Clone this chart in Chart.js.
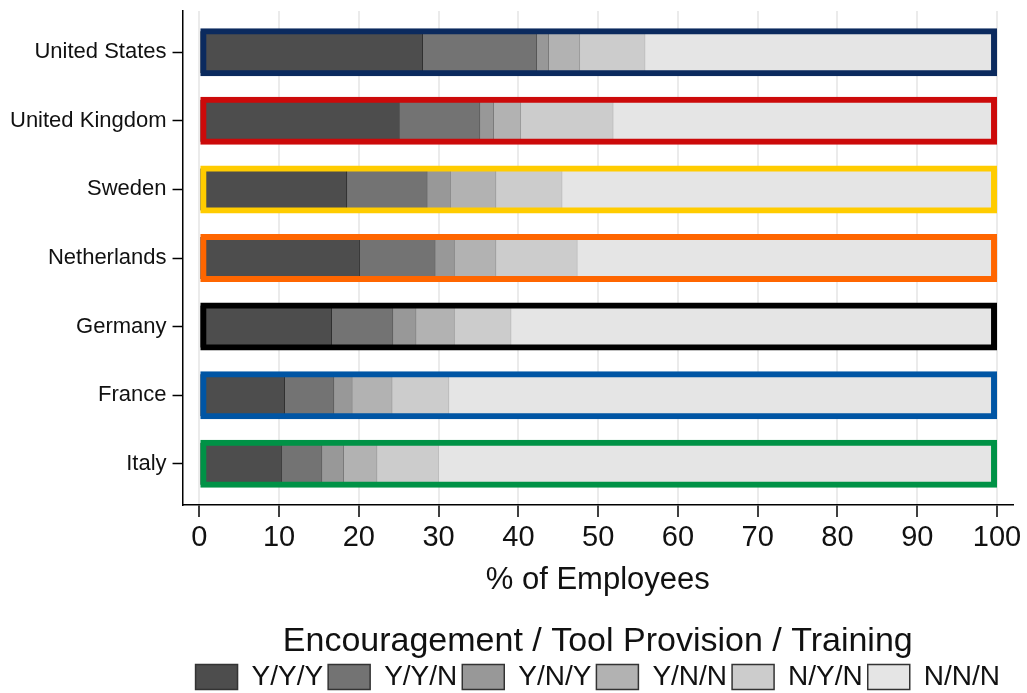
<!DOCTYPE html>
<html>
<head>
  <title>Encouragement / Tool Provision / Training</title>
  <script src="https://cdn.jsdelivr.net/npm/chart.js"></script>
  <style>
    body {
      margin: 0;
      background: #ffffff;
    }
    #wrap {
      width: 1027px;
      height: 693px;
    }
  </style>
</head>
<body>

  <div id="wrap"><canvas id="chart"></canvas></div>

  <script>
    const countries = ['United States', 'United Kingdom', 'Sweden', 'Netherlands', 'Germany', 'France', 'Italy'];
    const outlineColors = ['#0b2a5e', '#cc0a0a', '#ffcc00', '#ff6600', '#000000', '#0055a4', '#009246'];

    const seriesNames = ['Y/Y/Y', 'Y/Y/N', 'Y/N/Y', 'Y/N/N', 'N/Y/N', 'N/N/N'];
    const seriesColors = ['#4d4d4d', '#737373', '#989898', '#b2b2b2', '#cccccc', '#e5e5e5'];
    const seriesBorders = ['#2e2e2e', '#555555', '#7a7a7a', '#999999', '#b8b8b8', '#d0d0d0'];

    const yyy = [28.0, 25.1, 18.5, 20.1, 16.6, 10.7, 10.4];
    const yyn = [14.3, 10.1, 10.1, 9.5, 7.7, 6.2, 5.0];
    const yny = [1.5, 1.7, 2.9, 2.4, 2.9, 2.3, 2.7];
    const ynn = [3.9, 3.4, 5.7, 5.2, 4.8, 5.0, 4.2];
    const nyn = [8.2, 11.6, 8.3, 10.2, 7.1, 7.1, 7.7];
    const nnn = [44.1, 48.1, 54.5, 52.6, 60.9, 68.7, 70.0];
    const totals = [100, 100, 100, 100, 100, 100, 100];

    const xTicks = [0, 10, 20, 30, 40, 50, 60, 70, 80, 90, 100];

    const seriesValues = [yyy, yyn, yny, ynn, nyn, nnn];

    function points(vals) {
      return vals.map((v, i) => ({ x: v, y: i }));
    }

    // outline box goes first so it is drawn on top
    const datasets = [{
      label: 'outline',
      data: points(totals),
      backgroundColor: 'rgba(0,0,0,0)',
      borderColor: outlineColors,
      borderWidth: 6,
      borderSkipped: false,
      grouped: false,
      stack: 'outline',
      categoryPercentage: 1,
      barPercentage: 0.8,
      maxBarThickness: 48
    }];

    seriesValues.forEach((vals, k) => {
      datasets.push({
        label: seriesNames[k],
        data: points(vals),
        backgroundColor: seriesColors[k],
        borderColor: seriesBorders[k],
        borderWidth: { top: 0, bottom: 0, left: 0, right: 1 },
        borderSkipped: false,
        stack: 'main',
        barThickness: 42
      });
    });

    Chart.defaults.font.family = "'Liberation Sans', Arial, sans-serif";
    Chart.defaults.color = '#1a1a1a';

    new Chart(document.getElementById('chart'), {
      type: 'bar',
      data: { datasets: datasets },
      options: {
        indexAxis: 'y',
        responsive: true,
        maintainAspectRatio: false,
        animation: false,
        layout: {
          padding: { left: 4, right: 14, top: 11, bottom: -8 }
        },
        scales: {
          x: {
            type: 'linear',
            stacked: true,
            min: -2.1,
            max: 102,
            afterBuildTicks: axis => {
              axis.ticks = xTicks.map(v => ({ value: v }));
            },
            grid: {
              color: '#ebebeb',
              lineWidth: 2,
              tickColor: '#000000',
              tickWidth: 1.5,
              tickLength: 12
            },
            border: { color: '#000000', width: 1.5 },
            ticks: {
              font: { size: 29 },
              color: '#111111',
              padding: 4,
              maxRotation: 0
            },
            title: {
              display: true,
              text: '% of Employees',
              font: { size: 31 },
              color: '#111111',
              padding: { top: 2, bottom: 22 }
            }
          },
          y: {
            type: 'linear',
            stacked: true,
            reverse: true,
            offset: false,
            min: -0.6,
            max: 6.6,
            afterBuildTicks: axis => {
              axis.ticks = countries.map((c, i) => ({ value: i }));
            },
            grid: {
              offset: false,
              drawOnChartArea: false,
              tickColor: '#000000',
              tickWidth: 1.5,
              tickLength: 10
            },
            border: { color: '#000000', width: 1.5 },
            ticks: {
              font: { size: 22, lineHeight: 0.3 },
              color: '#111111',
              padding: 6,
              callback: v => countries[v]
            }
          }
        },
        plugins: {
          tooltip: { enabled: false },
          legend: {
            position: 'bottom',
            fullSize: false,
            title: {
              display: true,
              text: 'Encouragement / Tool Provision / Training',
              font: { size: 34, lineHeight: 1.0 },
              color: '#111111',
              padding: { top: 4, bottom: -1 }
            },
            labels: {
              boxWidth: 42,
              boxHeight: 25,
              padding: 5,
              font: { size: 28 },
              color: '#111111',
              generateLabels: chart => {
                return seriesNames.map((name, k) => ({
                  text: name,
                  fillStyle: seriesColors[k],
                  strokeStyle: '#333333',
                  lineWidth: 1.5,
                  datasetIndex: k + 1,
                  hidden: false
                }));
              }
            }
          }
        }
      }
    });
  </script>

</body>
</html>
